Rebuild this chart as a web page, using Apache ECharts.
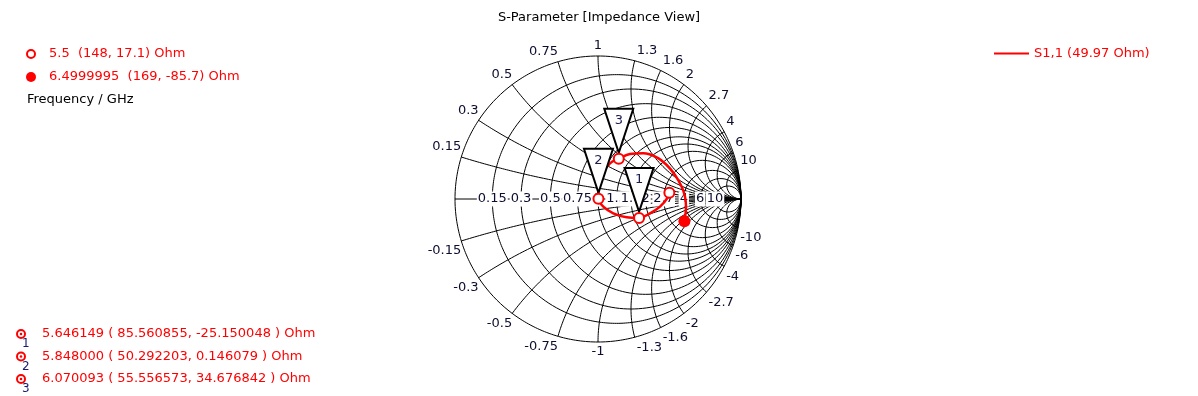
<!DOCTYPE html>
<html><head><meta charset="utf-8">
<script src="https://cdn.jsdelivr.net/npm/echarts@6/dist/echarts.min.js"></script>
<style>html,body{margin:0;padding:0;background:#fff}#c{width:1198px;height:396px}</style>
</head><body><div id="c"></div>
<script>
// ---- data ----
const gridValues = [0.15, 0.3, 0.5, 0.75, 1, 1.3, 1.6, 2, 2.7, 4, 6, 10];
const gridLabels = ['0.15', '0.3', '0.5', '0.75', '1', '1.3', '1.6', '2', '2.7', '4', '6', '10'];
const z0 = 49.97;
const seriesName = 'S1,1 (49.97 Ohm)';
// S11 trace (reflection coefficient, real / imaginary), 5.5 GHz .. 6.5 GHz
const s11Re = [0.4987, 0.4916, 0.4336, 0.3636, 0.2868, 0.2007, 0.1070, 0.0371, 0.0029, 0.0021, 0.0259, 0.0839, 0.1449, 0.2238, 0.3168, 0.4105, 0.4804, 0.5385, 0.5853, 0.6084, 0.6154, 0.6040];
const s11Im = [0.0433, 0.0161, -0.0538, -0.1000, -0.1323, -0.1280, -0.1000, -0.0538, 0.0015, 0.0629, 0.1678, 0.2497, 0.2810, 0.3147, 0.3196, 0.2916, 0.2378, 0.1678, 0.0860, 0.0161, -0.0538, -0.1550];
// markers
const markerIds = ['1', '2', '3'];
const markerFreq = [5.646149, 5.848000, 6.070093];
const markerR = [85.560855, 50.292203, 55.556573];
const markerX = [-25.150048, 0.146079, 34.676842];
// start / end points
const startFreq = '5.5', startR = 148, startX = 17.1;
const endFreq = '6.4999995', endR = 169, endX = -85.7;

// ---- helpers ----
const FONT = 'DejaVu Sans';
function zToGamma(r, x) {
  const den = (r + 1) * (r + 1) + x * x;
  return [(r * r - 1 + x * x) / den, (2 * x) / den];
}
function ohmToGamma(R, X) { return zToGamma(R / z0, X / z0); }

const series = [];
function gridLine(points) {
  series.push({ type: 'line', data: points, symbol: 'none', silent: true, clip: false,
    lineStyle: { color: '#000', width: 1 }, z: 1, animation: false });
}
// resistance circles (including outer r=0)
[0].concat(gridValues).forEach(r => {
  const c = r / (1 + r), rho = 1 / (1 + r), pts = [];
  for (let k = 0; k <= 360; k++) { const t = k / 360 * 2 * Math.PI; pts.push([c + rho * Math.cos(t), rho * Math.sin(t)]); }
  gridLine(pts);
});
// reactance arcs
gridValues.forEach(v => {
  [v, -v].forEach(x => {
    const pts = [];
    const N = 300;
    for (let k = 0; k < N; k++) { const r = Math.tan(k / N * Math.PI / 2); pts.push(zToGamma(r, x)); }
    pts.push([1, 0]);
    gridLine(pts);
  });
});
// real axis
gridLine([[-1, 0], [1, 0]]);

// labels
const labelItems = [];
gridValues.forEach((v, i) => {
  const g = zToGamma(v, 0);
  labelItems.push({ p: g, text: gridLabels[i], align: 'center', dx: 0, dy: 0, bg: true });
});
gridValues.forEach((v, i) => {
  [1, -1].forEach(s => {
    const g = zToGamma(0, s * v);
    const align = v < 1 ? 'right' : (v > 1 ? 'left' : 'center');
    const dx = v > 1 ? 2 : 0;
    labelItems.push({ p: g, text: (s < 0 ? '-' : '') + gridLabels[i], align: align, dx: dx, dy: s > 0 ? -10 : 10, bg: false });
  });
});
series.push({
  type: 'custom', silent: true, z: 2, animation: false, clip: false,
  data: labelItems.map(l => l.p),
  renderItem: function (params, api) {
    const l = labelItems[params.dataIndex];
    const p = api.coord(l.p);
    return { type: 'text', x: p[0] + l.dx, y: p[1] + l.dy,
      style: { text: l.text, align: l.align, verticalAlign: 'middle', fill: '#0d0d30',
        font: '13px "' + FONT + '"', backgroundColor: l.bg ? '#fff' : null, padding: l.bg ? [1, 1] : 0 } };
  }
});

// S11 trace
series.push({
  name: seriesName, type: 'line', smooth: 0.35, symbol: 'none', z: 3, animation: false,
  data: s11Re.map((re, i) => [re, s11Im[i]]),
  itemStyle: { color: '#ff0000' }, lineStyle: { color: '#ff0000', width: 2.5 }
});

// marker triangles
const markerGammas = markerR.map((R, i) => ohmToGamma(R, markerX[i]));
series.push({
  type: 'custom', silent: true, z: 4, animation: false, clip: false,
  data: markerGammas,
  renderItem: function (params, api) {
    const p = api.coord(markerGammas[params.dataIndex]);
    return { type: 'group', children: [
      { type: 'polygon', shape: { points: [[p[0] - 14.5, p[1] - 50], [p[0] + 14.5, p[1] - 50], [p[0], p[1] - 6]] },
        style: { fill: '#fff', stroke: '#000', lineWidth: 2 } },
      { type: 'text', x: p[0], y: p[1] - 38,
        style: { text: markerIds[params.dataIndex], align: 'center', verticalAlign: 'middle', fill: '#1a1a50', font: '13px "' + FONT + '"' } }
    ] };
  }
});
// marker circles (open) incl. start point
series.push({
  type: 'scatter', silent: true, z: 5, animation: false,
  data: markerGammas.concat([ohmToGamma(startR, startX)]),
  symbol: 'circle', symbolSize: 10,
  itemStyle: { color: '#fff', borderColor: '#ff0000', borderWidth: 2, opacity: 1 }
});
// end point (filled)
series.push({
  type: 'scatter', silent: true, z: 5, animation: false,
  data: [ohmToGamma(endR, endX)], symbol: 'circle', symbolSize: 12,
  itemStyle: { color: '#ff0000', opacity: 1 }
});

// ---- side texts ----
const red = '#ff0000';
const txt = (x, y, text, fill, size) => ({ type: 'text', x: x, y: y,
  style: { text: text, fill: fill, font: (size || 13) + 'px "' + FONT + '"', verticalAlign: 'middle' } });
const graphics = [
  { type: 'circle', shape: { cx: 31, cy: 54, r: 4 }, style: { fill: '#fff', stroke: red, lineWidth: 2 } },
  txt(49, 54, startFreq + '  (' + startR + ', ' + startX + ') Ohm', red),
  { type: 'circle', shape: { cx: 31, cy: 77, r: 5 }, style: { fill: red } },
  txt(49, 77, endFreq + '  (' + endR + ', ' + endX + ') Ohm', red),
  txt(27, 100, 'Frequency / GHz', '#000')
];
markerIds.forEach((id, i) => {
  const y = 334 + i * 22.5;
  graphics.push({ type: 'circle', shape: { cx: 21, cy: y, r: 4 }, style: { fill: '#fff', stroke: red, lineWidth: 2 } });
  graphics.push({ type: 'circle', shape: { cx: 21, cy: y, r: 1.3 }, style: { fill: red } });
  graphics.push(txt(22, y + 10, id, '#1a1a70', 12));
  graphics.push(txt(42, y, markerFreq[i].toFixed(6) + ' ( ' + markerR[i].toFixed(6) + ', ' + markerX[i].toFixed(6) + ' ) Ohm', red));
});

const chart = echarts.init(document.getElementById('c'), null, { renderer: 'canvas' });
chart.setOption({
  animation: false,
  backgroundColor: '#fff',
  title: { text: 'S-Parameter [Impedance View]', left: 'center', top: 11, padding: 0,
    textStyle: { fontFamily: FONT, fontSize: 13, fontWeight: 'normal', color: '#000' } },
  legend: { data: [seriesName], left: 994, top: 47, padding: 0, icon: 'rect', itemWidth: 35, itemHeight: 2,
    textStyle: { fontFamily: FONT, fontSize: 13, color: red }, selectedMode: false },
  grid: { left: 455, top: 56, width: 286, height: 286 },
  xAxis: { type: 'value', min: -1, max: 1, show: false },
  yAxis: { type: 'value', min: -1, max: 1, show: false },
  graphic: graphics,
  series: series
});
</script></body></html>
